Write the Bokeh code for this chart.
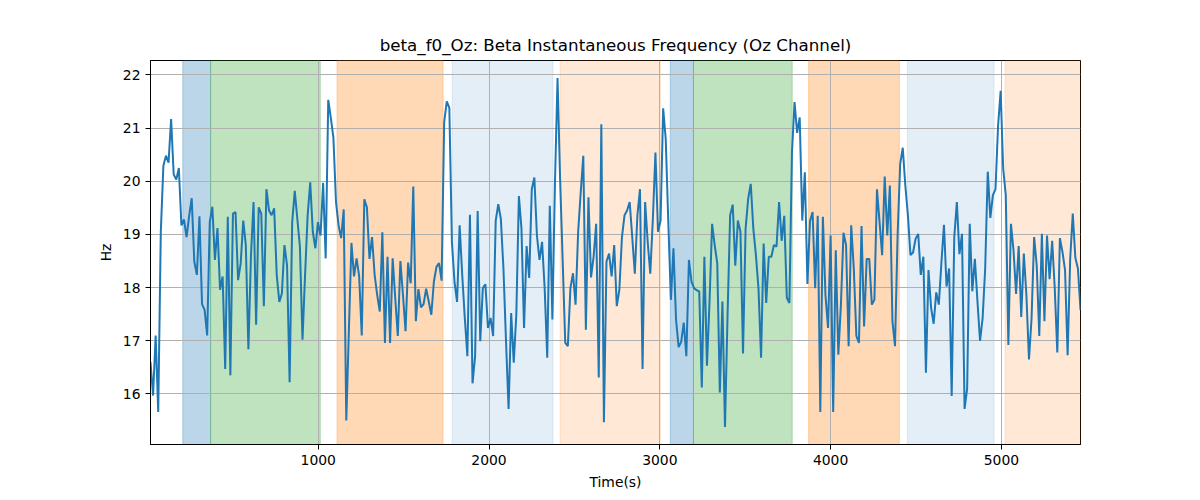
#!/usr/bin/env python3

from bokeh.embed import file_html
from bokeh.models import BoxAnnotation, Range1d
from bokeh.plotting import figure
from bokeh.resources import INLINE

# first / last sample time (s) and the Beta frequency
T_START = 18
T_END = 5463
hz = [
    16.6, 15.97, 17.1, 15.66, 19.05, 20.29, 20.48, 20.35, 21.17, 20.13, 20.03, 20.25,
    19.17, 19.28, 18.95, 19.35, 19.68, 18.49, 18.24, 19.34, 17.69, 17.58, 17.1, 19.23,
    19.52, 18.52, 19.12, 17.96, 18.21, 16.47, 19.33, 16.35, 19.39, 19.42, 18.14, 18.45,
    19.26, 18.8, 16.84, 18.61, 19.61, 17.3, 19.51, 19.39, 17.65, 19.85,
    19.45, 19.36, 19.49, 18.24, 17.73, 17.89, 18.8, 18.42, 16.22, 19.23, 19.82, 19.29,
    18.77, 17.02, 18.24, 19.36, 19.98, 19.05, 18.74, 19.23, 18.98, 19.97, 18.55, 21.53,
    21.19, 20.82, 19.61, 19.17, 18.93, 19.47, 15.5, 17.18, 18.84, 18.21, 18.55, 18.21,
    17.1, 19.66, 19.51, 18.54, 18.95, 18.24, 17.86, 17.55, 19.04,
    16.96, 18.58, 16.96, 18.55, 17.8, 17.09, 18.5, 17.86, 17.18, 18.47, 18.08, 19.9,
    17.37, 17.97, 17.63, 17.69, 17.98, 17.74, 17.49, 18.11, 18.39, 18.46, 18.13, 21.11,
    21.5, 21.38, 18.86, 18.11, 17.73, 19.17, 18.24, 17.43, 16.71, 19.37, 16.2, 16.71,
    19.44, 16.99, 17.99, 18.06, 17.24, 17.43, 17.09, 19.26, 19.57,
    19.29, 18.36, 16.99, 15.72, 17.52, 16.59, 17.49, 19.72, 19.11, 17.24, 18.78, 18.18,
    19.85, 20.07, 18.98, 18.52, 18.86, 17.99, 16.68, 19.54, 17.4, 19.98, 21.94, 20.04,
    18.49, 16.96, 16.9, 17.99, 18.27, 17.68, 19.05, 19.79, 20.48, 17.21, 19.7, 18.19,
    18.58, 19.2, 16.31, 21.07, 15.47, 18.49, 18.64, 18.21, 18.8,
    17.65, 17.96, 18.95, 19.36, 19.45, 19.61, 18.95, 18.26, 19.36, 19.85, 16.47, 19.61,
    18.86, 18.26, 19.29, 20.54, 19.05, 19.26, 21.37, 20.79, 19.23, 17.77, 18.74, 17.4,
    16.88, 16.98, 17.34, 16.71, 18.52, 18.11, 17.99, 17.95, 17.93, 16.12, 18.58, 16.53,
    17.74, 19.2, 18.8, 18.46, 16.03, 17.74, 15.38, 17.49, 19.36,
    19.56, 18.41, 19.26, 19.05, 16.76, 19.11, 19.67, 19.95, 19.11, 18.61, 17.99, 16.68,
    18.83, 17.71, 18.58, 18.58, 18.8, 18.77, 19.61, 18.88, 19.35, 17.81, 17.71, 20.54,
    21.49, 20.91, 21.2, 19.26, 20.17, 18.07, 19.25, 19.42, 17.99, 19.35, 15.66, 19.33,
    17.86, 17.24, 18.98, 15.66, 18.7, 16.74, 17.68, 19.03, 18.8, 16.9,
    19.17, 18.36, 17.09, 16.96, 19.16, 17.27, 18.54, 18.54, 17.68, 17.77, 19.85, 19.23,
    18.61, 20.09, 18.98, 19.92, 17.37, 16.9, 18.98, 20.32, 20.63, 19.92, 19.36, 18.61,
    18.66, 18.92, 19.01, 18.24, 18.58, 16.4, 18.33, 17.62, 17.32, 17.91, 17.68, 18.46,
    19.18, 18.02, 18.36, 15.96, 18.95, 19.61, 18.63, 19.01, 15.72,
    16.1, 19.2, 17.93, 18.54, 17.74, 17.0, 17.42, 18.36, 20.18, 19.31, 19.74, 19.85,
    21.04, 21.7, 20.23, 19.74, 16.92, 19.2, 18.7, 17.88, 18.78, 17.45, 18.64, 17.86,
    16.65, 17.42, 18.95, 18.42, 17.09, 19.01, 17.37, 18.98, 18.16, 18.88, 17.99, 16.78,
    18.93, 18.67, 18.33, 16.73, 18.54, 19.39, 18.56, 18.36, 17.58,
]

# shaded stages: start, end, kind
span_start = [207, 370, 1110, 1784, 2416, 3061, 3197, 3871, 4449, 5021]
span_end = [370, 1012, 1731, 2375, 3003, 3197, 3775, 4402, 4957, 5463]
span_kind = ["blue", "green", "orange", "pale_blue", "pale_orange",
             "blue", "green", "orange", "pale_blue", "pale_orange"]

kind_style = {
    "blue": ("#1f77b4", 0.3),
    "green": ("#2ca02c", 0.3),
    "orange": ("#ff7f0e", 0.3),
    "pale_blue": ("#1f77b4", 0.12),
    "pale_orange": ("#ff7f0e", 0.17),
}

FONT = "DejaVu Sans"


def main() -> None:
    n = len(hz)
    step = (T_END - T_START) / (n - 1)
    times = [T_START + i * step for i in range(n)]

    p = figure(width=1184, height=492,
               x_range=Range1d(T_START, T_END), y_range=Range1d(15.05, 22.27),
               title="beta_f0_Oz: Beta Instantaneous Frequency (Oz Channel)",
               output_backend="svg", toolbar_location=None)
    p.min_border_left = 150
    p.min_border_right = 104
    p.min_border_top = 60
    p.min_border_bottom = 47
    p.background_fill_color = "white"
    p.border_fill_color = "white"
    p.outline_line_color = "black"
    p.outline_line_width = 1

    p.title.align = "center"
    p.title.text_font = FONT
    p.title.text_font_size = "16.7px"
    p.title.text_font_style = "normal"
    p.title.text_color = "black"
    p.title.standoff = 12

    for s, e, k in zip(span_start, span_end, span_kind):
        c, a = kind_style[k]
        p.add_layout(BoxAnnotation(left=s, right=e, fill_color=c, fill_alpha=a,
                                   line_color=c, line_alpha=a, line_width=1,
                                   level="image"))

    p.line(times, hz, line_color="#1f77b4", line_width=2)

    p.xaxis.ticker = [1000, 2000, 3000, 4000, 5000]
    p.yaxis.ticker = [16, 17, 18, 19, 20, 21, 22]
    p.xaxis.axis_label = "Time(s)"
    p.yaxis.axis_label = "Hz"
    for ax in (p.xaxis, p.yaxis):
        ax.axis_label_text_font = FONT
        ax.axis_label_text_font_size = "13.9px"
        ax.axis_label_text_font_style = "normal"
        ax.axis_label_text_color = "black"
        ax.major_label_text_font = FONT
        ax.major_label_text_font_size = "13.9px"
        ax.major_label_text_color = "black"
        ax.major_label_standoff = 5
        ax.axis_label_standoff = 6
        ax.major_tick_in = 0
        ax.major_tick_out = 5
        ax.minor_tick_line_color = None
        ax.axis_line_color = "black"
        ax.major_tick_line_color = "black"

    p.grid.grid_line_color = "#b0b0b0"
    p.grid.grid_line_width = 1
    p.grid.level = "underlay"

    open("out.html", "w").write(file_html(p, INLINE))


if __name__ == "__main__":
    main()
